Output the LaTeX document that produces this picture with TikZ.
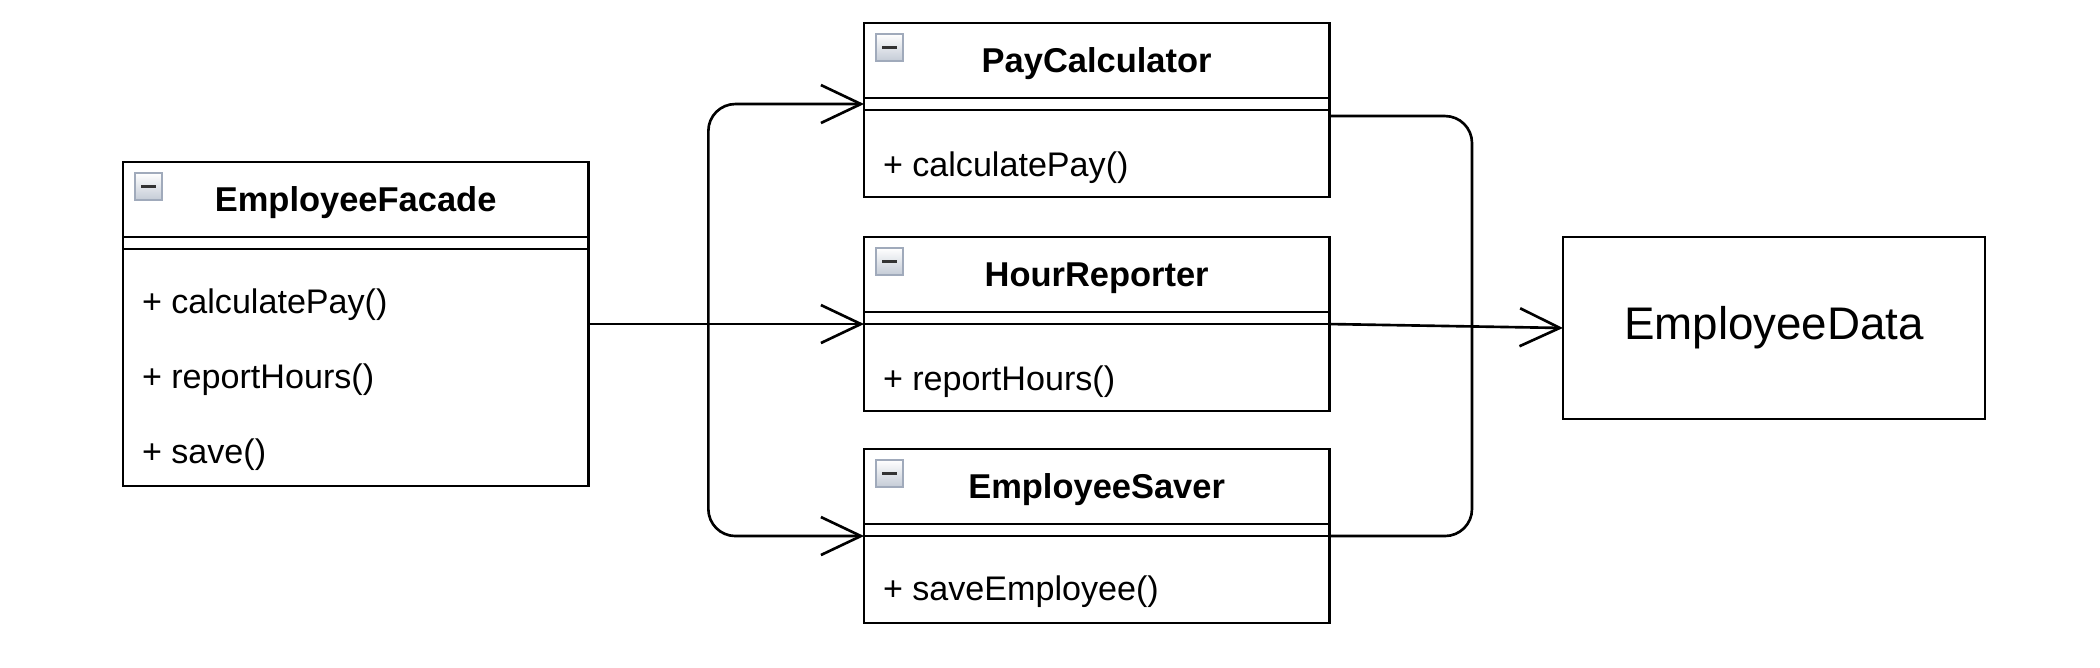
\documentclass[tikz,border=0pt]{standalone}
\usepackage{fontspec}
\setmainfont{Liberation Sans}
\usetikzlibrary{positioning, arrows.meta}

\definecolor{iconframe}{RGB}{160,170,187}
\definecolor{iconfill}{RGB}{196,203,214}

\begin{document}
\begin{tikzpicture}[
    x = 0.01cm, y = -0.01cm,
    every node/.style = {outer sep = 0pt},
    head/.style   = {draw, line width = 0.75pt, minimum width = 4.65cm, minimum height = 0.75cm,
                     text depth = 0pt, font = \fontsize{9.8}{12}\selectfont\bfseries},
    gap/.style    = {draw, line width = 0.75pt, minimum width = 4.65cm, minimum height = 0.12cm, inner sep = 0pt},
    body/.style   = {draw, line width = 0.75pt, minimum width = 4.65cm, inner sep = 0pt},
    member/.style = {anchor = base west, inner sep = 0pt, font = \fontsize{9.7}{12}\selectfont},
    entity/.style = {draw, line width = 0.75pt, minimum width = 4.22cm, minimum height = 1.82cm,
                     font = \fontsize{13}{15}\selectfont},
    icon/.style   = {draw = iconframe, line width = 0.4pt, top color = white, bottom color = iconfill,
                     minimum size = 0.27cm, inner sep = 0pt, anchor = north west,
                     path picture = {\draw[line width = 0.85pt, black!80]
                       ([xshift = 0.06cm]path picture bounding box.west) --
                       ([xshift = -0.06cm]path picture bounding box.east);}},
    uses/.style   = {line width = 0.75pt, -{Straight Barb[length = 0.4cm, width = 0.38cm]}},
    link/.style   = {line width = 0.75pt, rounded corners = 0.27cm}
  ]
  \useasboundingbox (0,0) rectangle (2100,668);
  % the facade
  \node[head, anchor = north west] (ef) at (123,162) {EmployeeFacade};
  \node[gap, below = 0pt of ef] (ef-gap) {};
  \node[body, below = 0pt of ef-gap, minimum height = 2.37cm] (ef-body) {};
  \node[icon] (ef-icon) at ([shift = {(12,11)}]ef.north west) {};
  \node[member] (ef-m1) at ([shift = {(19,64)}]ef-body.north west) {+ calculatePay()};
  \node[member] (ef-m2) at ([shift = {(19,139)}]ef-body.north west) {+ reportHours()};
  \node[member] (ef-m3) at ([shift = {(19,214)}]ef-body.north west) {+ save()};
  % the subsystem classes
  \node[head, anchor = north west] (pc) at (864,23) {PayCalculator};
  \node[gap, below = 0pt of pc] (pc-gap) {};
  \node[body, below = 0pt of pc-gap, minimum height = 0.87cm] (pc-body) {};
  \node[icon] (pc-icon) at ([shift = {(12,11)}]pc.north west) {};
  \node[member] (pc-m1) at ([shift = {(19,66)}]pc-body.north west) {+ calculatePay()};

  \node[head, anchor = north west] (hr) at (864,237) {HourReporter};
  \node[gap, below = 0pt of hr] (hr-gap) {};
  \node[body, below = 0pt of hr-gap, minimum height = 0.87cm] (hr-body) {};
  \node[icon] (hr-icon) at ([shift = {(12,11)}]hr.north west) {};
  \node[member] (hr-m1) at ([shift = {(19,66)}]hr-body.north west) {+ reportHours()};

  \node[head, anchor = north west] (es) at (864,449) {EmployeeSaver};
  \node[gap, below = 0pt of es] (es-gap) {};
  \node[body, below = 0pt of es-gap, minimum height = 0.87cm] (es-body) {};
  \node[icon] (es-icon) at ([shift = {(12,11)}]es.north west) {};
  \node[member] (es-m1) at ([shift = {(19,64)}]es-body.north west) {+ saveEmployee()};
  % the data
  \node[entity] (ed) at (1774,328) {EmployeeData};
  % facade to subsystem
  \coordinate (fan) at ([xshift = 1.2cm]ef-body.east |- hr-body.north west);
  \draw[uses] (ef-body.east |- hr-body.north west) -- (hr-body.north west);
  \draw[uses, link] (fan) |- (pc-gap.west);
  \draw[uses, link] (fan) |- (es-body.north west);
  % subsystem to data
  \coordinate (merge) at (1472,326);
  \draw[uses] (hr-body.north east) -- (ed.west);
  \draw[link] ([yshift = -0.06cm]pc-body.north east) -| (merge);
  \draw[link] (es-body.north east) -| (merge);
\end{tikzpicture}
\end{document}
